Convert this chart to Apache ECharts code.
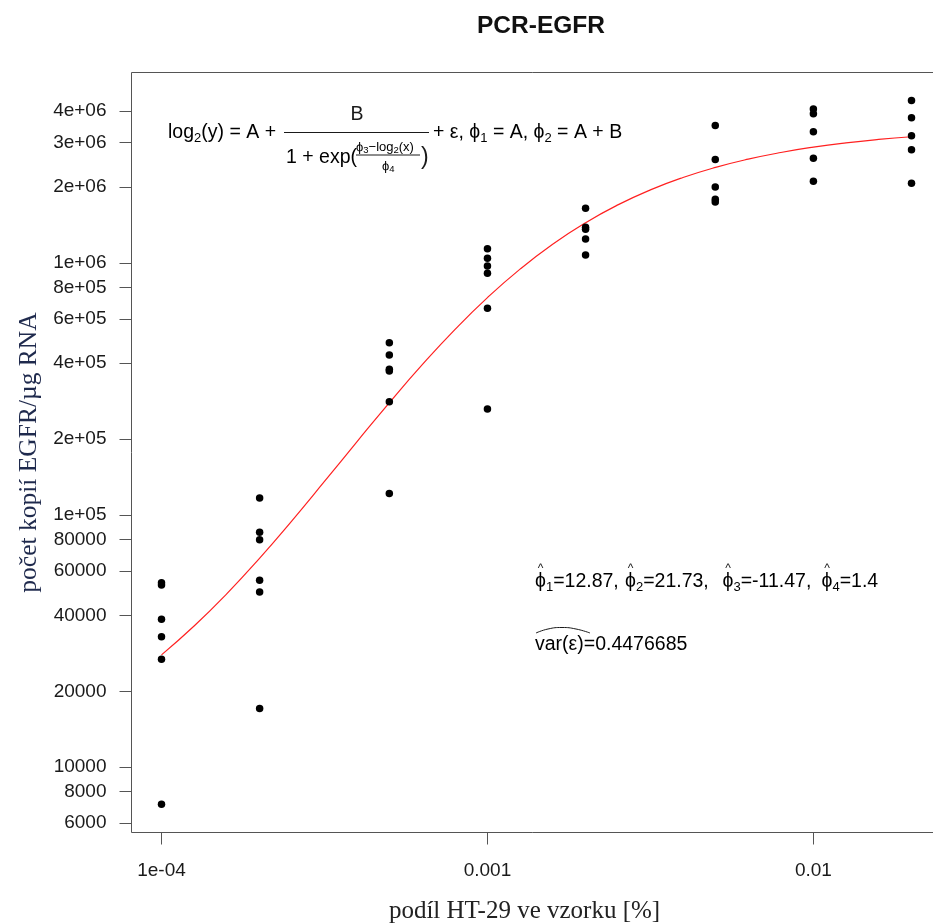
<!DOCTYPE html>
<html>
<head>
<meta charset="utf-8">
<script src="https://cdn.jsdelivr.net/npm/echarts@6/dist/echarts.min.js"></script>
<style>html,body{margin:0;padding:0;background:#fff}#c{width:933px;height:924px}</style>
</head>
<body>
<div id="c"></div>
<script>
// ---- data ----
const title = 'PCR-EGFR';
const xTitle = 'podíl HT-29 ve vzorku [%]';
const yTitle = 'počet kopií EGFR/µg RNA';

const xLevels = [1e-4, 2e-4, 5e-4, 1e-3, 2e-3, 5e-3, 1e-2, 2e-2];
const copies_1e4 = [53900, 52800, 38600, 32900, 26800, 7130];
const copies_2e4 = [116800, 85400, 79800, 55100, 49500, 17100];
const copies_5e4 = [482800, 431400, 378700, 372600, 281600, 121900];
const copies_1e3 = [1137000, 1044000, 973000, 910000, 661000, 263400];
const copies_2e3 = [1649000, 1386000, 1361000, 1245000, 1076000];
const copies_5e3 = [3506000, 2570000, 2002000, 1790000, 1746000];
const copies_1e2 = [4073000, 3902000, 3311000, 2603000, 2110000];
const copies_2e2 = [4406000, 3762000, 3192000, 2808000, 2072000];
const copiesByLevel = [copies_1e4, copies_2e4, copies_5e4, copies_1e3, copies_2e3, copies_5e3, copies_1e2, copies_2e2];

// fitted curve
const curveX = [1e-4, 1.259e-4, 1.585e-4, 1.995e-4, 2.512e-4, 3.162e-4, 3.981e-4, 5.012e-4, 6.31e-4, 7.943e-4,
  1e-3, 1.259e-3, 1.585e-3, 1.995e-3, 2.512e-3, 3.162e-3, 3.981e-3, 5.012e-3, 6.31e-3, 7.943e-3,
  1e-2, 1.259e-2, 1.585e-2, 1.995e-2];
const curveY = [27900, 36300, 48700, 67200, 94900, 135900, 195600, 279900, 394700, 543800,
  728400, 944900, 1185800, 1440700, 1698500, 1947900, 2181400, 2393000, 2579500, 2740600,
  2877700, 2992400, 3087200, 3164300];

const xTicks = [1e-4, 1e-3, 1e-2];
const xTickLabels = ['1e-04', '0.001', '0.01'];
const yTicks = [6000, 8000, 10000, 20000, 40000, 60000, 80000, 1e5, 2e5, 4e5, 6e5, 8e5, 1e6, 2e6, 3e6, 4e6];
const yTickLabels = ['6000', '8000', '10000', '20000', '40000', '60000', '80000', '1e+05', '2e+05', '4e+05', '6e+05', '8e+05', '1e+06', '2e+06', '3e+06', '4e+06'];

const paramText = ['=12.87,', '=21.73,', '=-11.47,', '=1.4'];
const varText = '=0.4476685';

// ---- build ----
const points = [];
xLevels.forEach((x, i) => copiesByLevel[i].forEach(v => points.push([x, v])));
const curve = curveX.map((x, i) => [x, curveY[i]]);

const SANS = '"Liberation Sans", Arial, sans-serif';
const SERIF = '"Liberation Serif", "Times New Roman", serif';
const txt = '#1a1a1a';
const PHI = 'ϕ';

function labelFor(list, labels, v) {
  let best = 0, bd = Infinity;
  list.forEach((t, i) => { const d = Math.abs(Math.log10(t) - Math.log10(v)); if (d < bd) { bd = d; best = i; } });
  return bd < 1e-6 ? labels[best] : '';
}

const chart = echarts.init(document.getElementById('c'), null, {renderer: 'canvas'});

const mainRich = {
  n: {fontFamily: SANS, fontSize: 19.5, color: txt, lineHeight: 24},
  s: {fontFamily: SANS, fontSize: 13, color: txt, lineHeight: 13, verticalAlign: 'bottom'}
};
const smallRich = {
  n: {fontFamily: SANS, fontSize: 13, color: txt, lineHeight: 16},
  s: {fontFamily: SANS, fontSize: 9.5, color: txt, lineHeight: 9, verticalAlign: 'bottom'}
};

const paramX = [535, 625, 722.5, 821.5];
const paramIdx = ['1', '2', '3', '4'];
const graphics = [
  {type: 'text', x: 168, y: 133, style: {text: '{n|log}{s|2}{n|(y) = A +}', rich: mainRich, textVerticalAlign: 'middle'}},
  {type: 'text', x: 357, y: 115, style: {text: 'B', font: '19.5px ' + SANS, fill: txt, textAlign: 'center', textVerticalAlign: 'middle'}},
  {type: 'line', shape: {x1: 284, y1: 132.5, x2: 429, y2: 132.5}, style: {stroke: txt, lineWidth: 1}},
  {type: 'text', x: 286, y: 158, style: {text: '{n|1 + exp(}', rich: mainRich, textVerticalAlign: 'middle'}},
  {type: 'text', x: 356, y: 147, style: {text: '{n|' + PHI + '}{s|3}{n|−log}{s|2}{n|(x)}', rich: smallRich, textVerticalAlign: 'middle'}},
  {type: 'line', shape: {x1: 356, y1: 155, x2: 420, y2: 155}, style: {stroke: txt, lineWidth: 1}},
  {type: 'text', x: 382, y: 166, style: {text: '{n|' + PHI + '}{s|4}', rich: smallRich, textVerticalAlign: 'middle'}},
  {type: 'text', x: 421, y: 158, style: {text: ')', font: '23px ' + SANS, fill: txt, textVerticalAlign: 'middle'}},
  {type: 'text', x: 433, y: 133, style: {text: '{n|+ ε, ' + PHI + '}{s|1}{n| = A, ' + PHI + '}{s|2}{n| = A + B}', rich: mainRich, textVerticalAlign: 'middle'}}
];
paramX.forEach((px, i) => {
  graphics.push({type: 'text', x: px, y: 582, style: {text: '{n|' + PHI + '}{s|' + paramIdx[i] + '}{n|' + paramText[i] + '}', rich: mainRich, textVerticalAlign: 'middle'}});
  graphics.push({type: 'text', x: px + 5.5, y: 569, style: {text: '^', font: '12px ' + SANS, fill: txt, textAlign: 'center', textVerticalAlign: 'middle'}});
});
graphics.push({type: 'text', x: 535, y: 645, style: {text: '{n|var(ε)' + varText + '}', rich: mainRich, textVerticalAlign: 'middle'}});
graphics.push({type: 'polyline', shape: {points: [[536, 633], [548, 629], [562, 627.5], [576, 629], [590, 633]], smooth: 0.5}, style: {stroke: txt, lineWidth: 1, fill: 'none'}});

const option = {
  backgroundColor: '#fff',
  animation: false,
  title: {
    text: title, left: 536, top: 9, textAlign: 'center',
    textStyle: {fontFamily: SANS, fontWeight: 'bold', fontSize: 24.5, color: '#111'}
  },
  grid: {left: 131.5, top: 72.5, width: 810, height: 760, outerBoundsMode: 'none', containLabel: false,
    show: true, borderColor: '#555', borderWidth: 1, backgroundColor: 'transparent'},
  xAxis: {
    type: 'log', logBase: 10,
    min: 8.09e-5, max: 0.02472,
    name: xTitle, nameLocation: 'middle', nameGap: 66,
    nameTextStyle: {fontFamily: SERIF, fontSize: 25, color: '#222', padding: [0, 24, 0, 0]},
    axisLine: {show: false},
    splitLine: {show: false},
    minorTick: {show: false},
    axisTick: {show: true, inside: false, length: 12, lineStyle: {color: '#555'}, customValues: xTicks},
    axisLabel: {customValues: xTicks, margin: 29, fontFamily: SANS, fontSize: 19, color: txt,
      formatter: v => labelFor(xTicks, xTickLabels, v)}
  },
  yAxis: {
    type: 'log', logBase: 10,
    min: 5510, max: 5690000,
    name: yTitle, nameLocation: 'middle', nameGap: 77,
    nameTextStyle: {fontFamily: SERIF, fontSize: 25.5, color: '#1f2a4d'},
    axisLine: {show: false},
    splitLine: {show: false},
    minorTick: {show: false},
    axisTick: {show: true, inside: false, length: 12, lineStyle: {color: '#555'}, customValues: yTicks},
    axisLabel: {customValues: yTicks, margin: 25, fontFamily: SANS, fontSize: 19, color: txt,
      formatter: v => labelFor(yTicks, yTickLabels, v)}
  },
  series: [
    {type: 'line', data: curve, smooth: true, symbol: 'none', z: 2,
      lineStyle: {color: '#ff2020', width: 1.2}},
    {type: 'scatter', data: points, symbol: 'circle', symbolSize: 7.5, z: 3,
      itemStyle: {color: '#000', opacity: 1}}
  ],
  graphic: graphics
};
chart.setOption(option);
</script>
</body>
</html>
